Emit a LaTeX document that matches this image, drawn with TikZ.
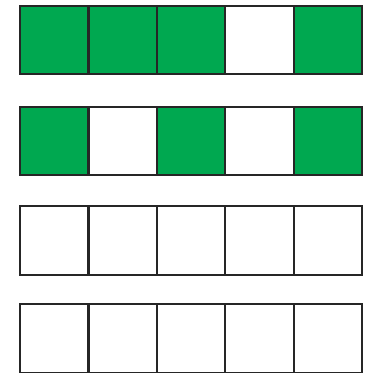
\documentclass[tikz,border=0pt]{standalone}
\usepackage{xcolor}
\definecolor{cellgreen}{RGB}{0,168,80}
\tikzset{
  cell/.style={minimum size=68.4, inner sep=0, outer sep=0, fill=white},
  on/.style={fill=cellgreen},
  rim/.style={draw=black!85, line width=2.2}
}

\begin{document}
\begin{tikzpicture}[x=1pt,y=1pt,yscale=-1,xscale=1]
\useasboundingbox (0,0) rectangle (369,373);

% row 1: three green, one blank, one green
\foreach \c/\f in {1/on,2/on,3/on,4/cell,5/on}
  \node[cell,\f] (a\c) at ({20+34.2+(\c-1)*68.4},40) {};
% row 2: alternating
\foreach \c/\f in {1/on,2/cell,3/on,4/cell,5/on}
  \node[cell,\f] (b\c) at ({20+34.2+(\c-1)*68.4},141) {};
% rows 3 and 4: empty
\foreach \c in {1,...,5}
  \node[cell] (c\c) at ({20+34.2+(\c-1)*68.4},240.5) {};
\foreach \c in {1,...,5}
  \node[cell] (d\c) at ({20+34.2+(\c-1)*68.4},338.5) {};

% borders on top of the fills
\foreach \r in {a,b,c,d}
  \foreach \c in {1,...,5}
    \draw[rim] (\r\c.north west) rectangle (\r\c.south east);

\end{tikzpicture}
\end{document}
